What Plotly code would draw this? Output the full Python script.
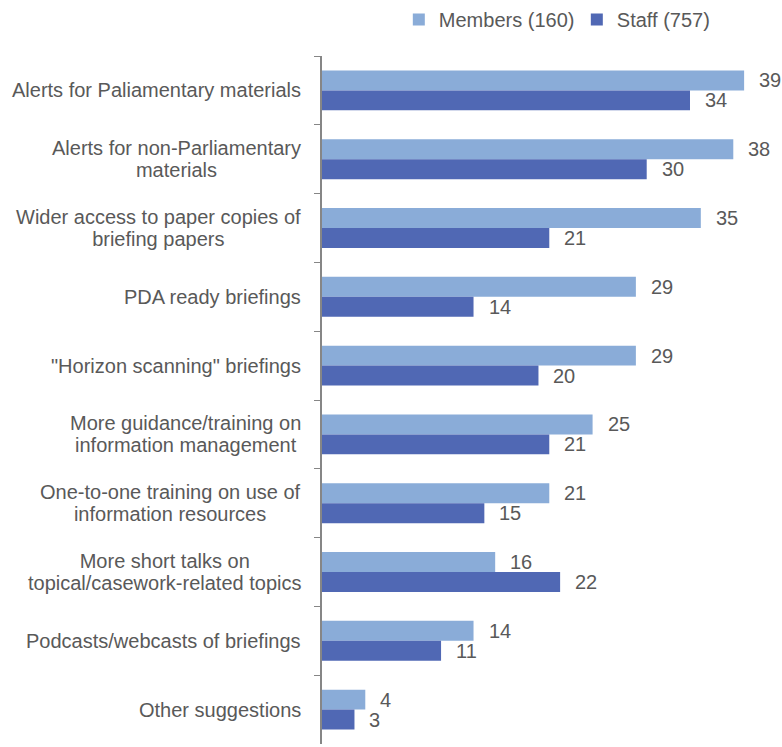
import plotly.graph_objects as go

categories = [
    "Alerts for Paliamentary materials",
    "Alerts for non-Parliamentary<br>materials",
    "Wider access to paper copies of<br>briefing papers",
    "PDA ready briefings",
    "\"Horizon scanning\" briefings",
    "More guidance/training on<br>information management",
    "One-to-one training on use of<br>information resources",
    "More short talks on<br>topical/casework-related topics",
    "Podcasts/webcasts of briefings",
    "Other suggestions",
]
members = [39, 38, 35, 29, 29, 25, 21, 16, 14, 4]
staff = [34, 30, 21, 14, 20, 21, 15, 22, 11, 3]
series_names = ["Members (160)", "Staff (757)"]

MEMBERS_COLOR = "#8AACD8"
STAFF_COLOR = "#5068B4"
TEXT_COLOR = "#595959"
FONT = "Liberation Sans, Arial, sans-serif"
FS = 20

fig = go.Figure()
fig.add_trace(go.Bar(y=categories, x=members, orientation="h", name=series_names[0],
                     marker=dict(color=MEMBERS_COLOR, line=dict(width=0))))
fig.add_trace(go.Bar(y=categories, x=staff, orientation="h", name=series_names[1],
                     marker=dict(color=STAFF_COLOR, line=dict(width=0))))

annotations = []
for i, cat in enumerate(categories):
    # value labels beside each bar of the group
    for val, off in ((members[i], -0.145), (staff[i], 0.145)):
        annotations.append(dict(
            x=val, y=i + off, xref="x", yref="y", text=str(val),
            showarrow=False, xanchor="left", yanchor="middle", xshift=13,
            font=dict(size=FS, color=TEXT_COLOR, family=FONT)))
    # category labels: the annotation's own size (17) sets a tight line pitch,
    # while each line is drawn at 20px
    text = "<br>".join(f"<span style='font-size:{FS}px'>{ln}</span>"
                       for ln in cat.split("<br>"))
    annotations.append(dict(
        x=0, y=i, xref="paper", yref="y", text=text, showarrow=False,
        xanchor="right", yanchor="middle", align="center", xshift=-19,
        font=dict(size=17, color=TEXT_COLOR, family=FONT)))

fig.update_layout(
    width=782, height=747,
    margin=dict(l=322, r=0, t=56, b=3),
    paper_bgcolor="white", plot_bgcolor="white",
    barmode="group", bargap=0.42, bargroupgap=0,
    font=dict(family=FONT, size=FS, color=TEXT_COLOR),
    showlegend=True,
    legend=dict(orientation="h", xref="container", yref="container",
                x=0.51, xanchor="left", y=1.0, yanchor="top",
                font=dict(size=FS, color=TEXT_COLOR, family=FONT),
                traceorder="normal", itemwidth=30, entrywidth=133,
                entrywidthmode="pixels"),
    annotations=annotations,
    xaxis=dict(range=[0, 42.5], visible=False, fixedrange=True),
    yaxis=dict(type="category", autorange="reversed", showticklabels=False,
               ticks="outside", tickson="boundaries", ticklen=6, tickcolor="#868686",
               showline=True, linecolor="#868686", linewidth=1.5, showgrid=False,
               zeroline=False),
)

fig.write_html("out.html")
